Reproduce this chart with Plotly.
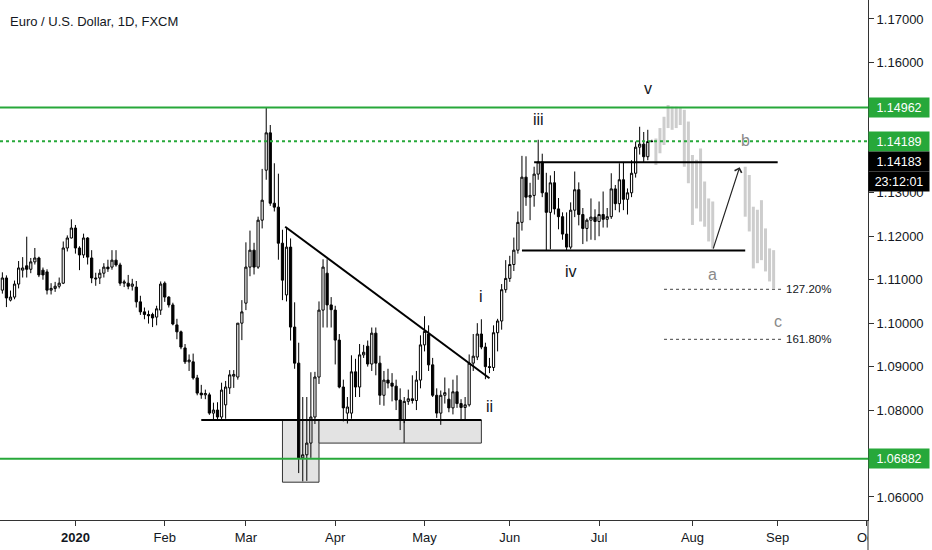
import pandas as pd
import plotly.graph_objects as go

# EUR/USD daily, FXCM -- (open, high, low, close), one list per month
HOLIDAYS = ["2019-12-25", "2020-01-01"]

dec_2019 = [(1.1080, 1.1092, 1.1066, 1.1078), (1.1076, 1.1117, 1.1068, 1.1104), (1.1104, 1.1110, 1.1037, 1.1058),
            (1.1053, 1.1075, 1.1050, 1.1060), (1.1060, 1.1098, 1.1055, 1.1090), (1.1090, 1.1143, 1.1080, 1.1127),
            (1.1122, 1.1152, 1.1105, 1.1127), (1.1132, 1.1199, 1.1105, 1.1124), (1.1124, 1.1150, 1.1115, 1.1141),
            (1.1141, 1.1173, 1.1135, 1.1150), (1.1150, 1.1153, 1.1106, 1.1111), (1.1122, 1.1128, 1.1100, 1.1111),
            (1.1118, 1.1124, 1.1066, 1.1076), (1.1076, 1.1092, 1.1066, 1.1080), (1.1080, 1.1095, 1.1072, 1.1085),
            (1.1085, 1.1105, 1.1080, 1.1092), (1.1092, 1.1188, 1.1090, 1.1173), (1.1173, 1.1202, 1.1165, 1.1196),
            (1.1196, 1.1239, 1.1195, 1.1219)]
jan_2020 = [(1.1219, 1.1226, 1.1160, 1.1173), (1.1173, 1.1177, 1.1122, 1.1157), (1.1157, 1.1206, 1.1150, 1.1196),
            (1.1196, 1.1198, 1.1135, 1.1152), (1.1150, 1.1168, 1.1092, 1.1104), (1.1104, 1.1116, 1.1086, 1.1102),
            (1.1104, 1.1124, 1.1090, 1.1115), (1.1115, 1.1138, 1.1105, 1.1129), (1.1129, 1.1146, 1.1118, 1.1125),
            (1.1129, 1.1168, 1.1123, 1.1145), (1.1145, 1.1168, 1.1130, 1.1134), (1.1134, 1.1139, 1.1086, 1.1092),
            (1.1092, 1.1100, 1.1083, 1.1095), (1.1092, 1.1111, 1.1078, 1.1085), (1.1085, 1.1102, 1.1075, 1.1090),
            (1.1083, 1.1097, 1.1036, 1.1049), (1.1049, 1.1063, 1.1019, 1.1026), (1.1026, 1.1036, 1.1009, 1.1020),
            (1.1020, 1.1029, 1.0999, 1.1017), (1.1020, 1.1024, 1.0991, 1.1012), (1.1014, 1.1040, 1.0995, 1.1033),
            (1.1030, 1.1096, 1.1019, 1.1090)]
feb_2020 = [(1.1092, 1.1096, 1.1049, 1.1060), (1.1060, 1.1062, 1.1036, 1.1042), (1.1042, 1.1047, 1.0995, 1.0998),
            (1.0996, 1.1010, 1.0963, 1.0980), (1.0980, 1.0983, 1.0940, 1.0945), (1.0943, 1.0952, 1.0906, 1.0911),
            (1.0911, 1.0928, 1.0890, 1.0915), (1.0911, 1.0930, 1.0870, 1.0874), (1.0874, 1.0881, 1.0834, 1.0839),
            (1.0839, 1.0858, 1.0826, 1.0835), (1.0835, 1.0847, 1.0825, 1.0838), (1.0835, 1.0840, 1.0789, 1.0793),
            (1.0793, 1.0817, 1.0778, 1.0800), (1.0800, 1.0818, 1.0777, 1.0784), (1.0784, 1.0863, 1.0777, 1.0846),
            (1.0812, 1.0867, 1.0780, 1.0853), (1.0851, 1.0892, 1.0837, 1.0881), (1.0878, 1.0892, 1.0851, 1.0882),
            (1.0876, 1.1000, 1.0870, 1.1000), (1.1000, 1.1053, 1.0961, 1.1026)]
mar_2020 = [(1.1046, 1.1186, 1.1030, 1.1129), (1.1129, 1.1213, 1.1108, 1.1168), (1.1168, 1.1185, 1.1112, 1.1129),
            (1.1129, 1.1245, 1.1125, 1.1237), (1.1237, 1.1355, 1.1218, 1.1283), (1.1352, 1.1496, 1.1330, 1.1438),
            (1.1438, 1.1456, 1.1270, 1.1276), (1.1276, 1.1368, 1.1257, 1.1267), (1.1267, 1.1344, 1.1146, 1.1184),
            (1.1184, 1.1215, 1.1053, 1.1099), (1.1065, 1.1221, 1.1050, 1.1175), (1.1175, 1.1195, 1.0960, 1.0991),
            (1.0991, 1.1048, 1.0895, 1.0908), (1.0908, 1.0955, 1.0655, 1.0690), (1.0690, 1.0830, 1.0636, 1.0697),
            (1.0697, 1.0830, 1.0637, 1.0724), (1.0724, 1.0887, 1.0690, 1.0784), (1.0784, 1.0888, 1.0768, 1.0876),
            (1.0876, 1.1050, 1.0860, 1.1030), (1.1030, 1.1147, 1.0990, 1.1129), (1.1115, 1.1147, 1.0990, 1.1042),
            (1.1042, 1.1060, 1.0990, 1.1031)]
apr_2020 = [(1.1030, 1.1040, 1.0905, 1.0961), (1.0961, 1.0975, 1.0850, 1.0853), (1.0853, 1.0870, 1.0774, 1.0805),
            (1.0793, 1.0830, 1.0769, 1.0807), (1.0793, 1.0926, 1.0780, 1.0888), (1.0888, 1.0918, 1.0830, 1.0853),
            (1.0853, 1.0952, 1.0830, 1.0927), (1.0927, 1.0950, 1.0920, 1.0933), (1.0947, 1.0960, 1.0900, 1.0906),
            (1.0906, 1.0990, 1.0890, 1.0977), (1.0977, 1.0990, 1.0880, 1.0908), (1.0908, 1.0925, 1.0812, 1.0834),
            (1.0834, 1.0890, 1.0810, 1.0869), (1.0869, 1.0895, 1.0850, 1.0862), (1.0862, 1.0885, 1.0820, 1.0855),
            (1.0855, 1.0870, 1.0800, 1.0823), (1.0823, 1.0850, 1.0754, 1.0778), (1.0778, 1.0830, 1.0770, 1.0820),
            (1.0820, 1.0847, 1.0812, 1.0826), (1.0826, 1.0880, 1.0815, 1.0822), (1.0822, 1.0890, 1.0800, 1.0869),
            (1.0869, 1.0972, 1.0850, 1.0950)]
may_2020 = [(1.0950, 1.1016, 1.0935, 1.0981), (1.0975, 1.0995, 1.0890, 1.0904), (1.0904, 1.0920, 1.0830, 1.0834),
            (1.0834, 1.0850, 1.0782, 1.0793), (1.0793, 1.0845, 1.0766, 1.0834), (1.0834, 1.0875, 1.0815, 1.0840),
            (1.0825, 1.0850, 1.0795, 1.0805), (1.0805, 1.0870, 1.0790, 1.0842), (1.0842, 1.0880, 1.0805, 1.0815),
            (1.0815, 1.0825, 1.0775, 1.0806), (1.0806, 1.0830, 1.0777, 1.0812), (1.0812, 1.0928, 1.0808, 1.0908),
            (1.0908, 1.0975, 1.0890, 1.0924), (1.0922, 1.1000, 1.0915, 1.0975), (1.0975, 1.1009, 1.0940, 1.0945),
            (1.0945, 1.0955, 1.0871, 1.0900), (1.0900, 1.0920, 1.0885, 1.0898), (1.0898, 1.0995, 1.0890, 1.0978),
            (1.0978, 1.1010, 1.0935, 1.1005), (1.1005, 1.1090, 1.0985, 1.1077), (1.1077, 1.1145, 1.1070, 1.1103)]
jun_2020 = [(1.1103, 1.1155, 1.1095, 1.1135), (1.1135, 1.1197, 1.1120, 1.1168), (1.1168, 1.1257, 1.1160, 1.1232),
            (1.1232, 1.1385, 1.1213, 1.1336), (1.1336, 1.1384, 1.1270, 1.1290), (1.1290, 1.1323, 1.1237, 1.1294),
            (1.1294, 1.1360, 1.1268, 1.1343), (1.1343, 1.1422, 1.1330, 1.1371), (1.1371, 1.1390, 1.1290, 1.1300),
            (1.1300, 1.1346, 1.1168, 1.1255), (1.1255, 1.1340, 1.1170, 1.1323), (1.1323, 1.1350, 1.1250, 1.1263),
            (1.1263, 1.1288, 1.1216, 1.1245), (1.1245, 1.1255, 1.1192, 1.1205), (1.1205, 1.1255, 1.1168, 1.1175),
            (1.1175, 1.1278, 1.1170, 1.1260), (1.1260, 1.1349, 1.1244, 1.1307), (1.1307, 1.1324, 1.1225, 1.1250),
            (1.1250, 1.1265, 1.1182, 1.1218), (1.1218, 1.1241, 1.1188, 1.1237), (1.1237, 1.1287, 1.1192, 1.1244),
            (1.1244, 1.1262, 1.1191, 1.1234)]
jul_2020 = [(1.1234, 1.1280, 1.1200, 1.1250), (1.1250, 1.1303, 1.1220, 1.1239), (1.1239, 1.1265, 1.1220, 1.1245),
            (1.1245, 1.1345, 1.1240, 1.1309), (1.1309, 1.1318, 1.1260, 1.1275), (1.1275, 1.1368, 1.1255, 1.1330),
            (1.1330, 1.1371, 1.1260, 1.1285), (1.1285, 1.1310, 1.1250, 1.1300), (1.1300, 1.1375, 1.1290, 1.1345),
            (1.1345, 1.1418, 1.1335, 1.1405), (1.1405, 1.1452, 1.1388, 1.1412), (1.1412, 1.1440, 1.1370, 1.1383),
            (1.1383, 1.1445, 1.1375, 1.1418), (1.1418, 1.1422, 1.1416, 1.14183)]

# projected "bars pattern" (low, high)
proj_a = [(1.1364, 1.1425), (1.1391, 1.1449), (1.1410, 1.1475), (1.1449, 1.1502), (1.1445, 1.1498),
          (1.1449, 1.1498), (1.1456, 1.1495), (1.1360, 1.1491), (1.1322, 1.1464), (1.1226, 1.1387),
          (1.1264, 1.1376), (1.1234, 1.1402), (1.1222, 1.1326), (1.1188, 1.1287), (1.1172, 1.1280)]
proj_c = [(1.1245, 1.1360), (1.1211, 1.1341), (1.1126, 1.1268), (1.1138, 1.1261), (1.1145, 1.1283),
          (1.1119, 1.1218), (1.1096, 1.1172), (1.1080, 1.1168)]

# levels
green_levels = [1.14962, 1.14189, 1.06882]
last_price = 1.14183
countdown = "23:12:01"
support = 1.07771
fib_levels = [(1.10779, "127.20%"), (1.09628, "161.80%")]
channel_top = 1.13702
channel_bot = 1.11672
waves = [("i", "2020-05-21", 1.1062, "#131722"), ("ii", "2020-05-25", 1.0809, "#131722"),
         ("iii", "2020-06-10", 1.1468, "#131722"), ("iv", "2020-06-22", 1.1120, "#131722"),
         ("v", "2020-07-17", 1.1541, "#131722"), ("a", "2020-08-10", 1.1111, "#8a8a8a"),
         ("b", "2020-08-20", 1.14215, "#8a8a8a"), ("c", "2020-09-01", 1.1003, "#8a8a8a")]
price_ticks = [1.06, 1.08, 1.09, 1.10, 1.11, 1.12, 1.13, 1.16, 1.17]
month_ticks = ["2020-01-02", "2020-02-03", "2020-03-02", "2020-04-01", "2020-05-01",
               "2020-06-01", "2020-07-01", "2020-08-03", "2020-09-01", "2020-10-01"]
month_text = ["<b>2020</b>", "Feb", "Mar", "Apr", "May", "Jun", "Jul", "Aug", "Sep", "Oct"]


def trading_days(start, end):
    d = pd.bdate_range(start, end)
    return [x for x in d if x.strftime("%Y-%m-%d") not in HOLIDAYS]


months = [("2019-12-04", "2019-12-31", dec_2019), ("2020-01-01", "2020-01-31", jan_2020),
          ("2020-02-01", "2020-02-29", feb_2020), ("2020-03-01", "2020-03-31", mar_2020),
          ("2020-04-01", "2020-04-30", apr_2020), ("2020-05-01", "2020-05-31", may_2020),
          ("2020-06-01", "2020-06-30", jun_2020), ("2020-07-01", "2020-07-20", jul_2020)]
dates, o, h, l, c = [], [], [], [], []
for start, end, rows in months:
    days = trading_days(start, end)
    assert len(days) == len(rows), (start, len(days), len(rows))
    dates += days
    o += [r[0] for r in rows]
    h += [r[1] for r in rows]
    l += [r[2] for r in rows]
    c += [r[3] for r in rows]

GREEN = "#27a83a"
INK = "#131722"
FONT = "Liberation Sans"

fig = go.Figure()

fig.add_trace(go.Candlestick(
    x=dates, open=o, high=h, low=l, close=c,
    increasing=dict(line=dict(color="black", width=1), fillcolor="white"),
    decreasing=dict(line=dict(color="black", width=1), fillcolor="black"),
    whiskerwidth=0, showlegend=False, hoverinfo="skip"))

for start, end, rows in [("2020-07-21", "2020-08-10", proj_a), ("2020-08-20", "2020-08-31", proj_c)]:
    days = pd.bdate_range(start, end)
    fig.add_trace(go.Ohlc(
        x=days, open=[r[1] for r in rows], high=[r[1] for r in rows],
        low=[r[0] for r in rows], close=[r[0] for r in rows],
        increasing=dict(line=dict(color="#cdcdcd", width=3)),
        decreasing=dict(line=dict(color="#cdcdcd", width=3)),
        tickwidth=0, showlegend=False, hoverinfo="skip"))

shapes = []
# grey boxes under the March low and the April/May base
shapes.append(dict(type="rect", xref="x", yref="y", x0="2020-03-13", x1="2020-03-26", y0=1.0634, y1=support,
                   fillcolor="#e3e3e3", line=dict(color="#333", width=1), layer="below"))
shapes.append(dict(type="rect", xref="x", yref="y", x0="2020-03-26", x1="2020-04-24", y0=1.0724, y1=support,
                   fillcolor="#e3e3e3", line=dict(color="#333", width=1), layer="below"))
shapes.append(dict(type="rect", xref="x", yref="y", x0="2020-04-24", x1="2020-05-21", y0=1.0724, y1=support,
                   fillcolor="#e3e3e3", line=dict(color="#333", width=1), layer="below"))
# support, trendline, range
shapes.append(dict(type="line", xref="x", yref="y", x0="2020-02-14", x1="2020-05-21", y0=support, y1=support,
                   line=dict(color="black", width=2)))
shapes.append(dict(type="line", xref="x", yref="y", x0="2020-03-13 16:00", x1="2020-05-25", y0=1.12220, y1=1.08731,
                   line=dict(color="black", width=2)))
shapes.append(dict(type="line", xref="x", yref="y", x0="2020-06-09", x1="2020-09-01", y0=channel_top, y1=channel_top,
                   line=dict(color="black", width=2)))
shapes.append(dict(type="line", xref="x", yref="y", x0="2020-06-04", x1="2020-08-20", y0=channel_bot, y1=channel_bot,
                   line=dict(color="black", width=2)))
# fib extensions
for lvl, _ in fib_levels:
    shapes.append(dict(type="line", xref="x", yref="y", x0="2020-07-23", x1="2020-09-02", y0=lvl, y1=lvl,
                       line=dict(color="#444", width=1, dash="dot")))
# green horizontal levels
for i, lvl in enumerate(green_levels):
    shapes.append(dict(type="line", xref="paper", yref="y", x0=0, x1=1, y0=lvl, y1=lvl,
                       line=dict(color=GREEN, width=2, dash="dot" if i == 1 else "solid")))
# hide the part of the x labels that sits under the price scale, and extend the scale line
shapes.append(dict(type="rect", xref="paper", yref="paper", x0=1.0, x1=1.08, y0=-0.06, y1=-0.002,
                   fillcolor="white", line=dict(width=0), layer="above"))
shapes.append(dict(type="line", xref="paper", yref="paper", x0=1, x1=1, y0=-0.06, y1=0,
                   line=dict(color="#333", width=1), layer="above"))

annotations = []
annotations.append(dict(xref="paper", yref="paper", x=0.009, y=0.958, xanchor="left", yanchor="middle",
                        text="Euro / U.S. Dollar, 1D, FXCM", showarrow=False,
                        font=dict(family=FONT, size=13, color=INK)))
for txt, d, y, col in waves:
    annotations.append(dict(x=d, y=y, text=txt, showarrow=False, xref="x", yref="y",
                            font=dict(family=FONT, size=16, color=col)))
for lvl, txt in fib_levels:
    annotations.append(dict(x="2020-09-02", y=lvl, text=txt, showarrow=False, xref="x", yref="y",
                            xanchor="left", xshift=2, font=dict(family=FONT, size=11.5, color=INK)))
# arrow from end of wave a to b
annotations.append(dict(x="2020-08-18 15:00", y=1.1359, ax="2020-08-10", ay=1.1168, xref="x", yref="y",
                        axref="x", ayref="y", text="", showarrow=True, arrowhead=4, arrowsize=1.2,
                        arrowwidth=1.2, arrowcolor="#222"))
# price scale labels
for lvl in green_levels:
    annotations.append(dict(xref="paper", yref="y", x=1, y=lvl, xanchor="left", text=f"{lvl:.5f}",
                            showarrow=False, bgcolor=GREEN, width=58, height=17,
                            font=dict(family=FONT, size=12.5, color="white")))
annotations.append(dict(xref="paper", yref="y", x=1, y=last_price, yshift=-20, xanchor="left",
                        text=f"{last_price:.5f}", showarrow=False, bgcolor="black", width=58, height=17,
                        font=dict(family=FONT, size=12.5, color="white")))
annotations.append(dict(xref="paper", yref="y", x=1, y=last_price, yshift=-40, xanchor="left",
                        text=countdown, showarrow=False, bgcolor="black", width=58, height=17,
                        font=dict(family=FONT, size=12.5, color="white")))

fig.update_layout(
    width=932, height=550,
    margin=dict(l=0, r=64, t=0, b=30),
    paper_bgcolor="white", plot_bgcolor="white",
    shapes=shapes, annotations=annotations,
    showlegend=False,
    boxgap=0.22,
    xaxis=dict(
        range=["2019-12-04 10:00", "2020-10-01 06:00"],
        rangebreaks=[dict(bounds=["sat", "mon"]), dict(values=HOLIDAYS)],
        rangeslider=dict(visible=False),
        tickvals=month_ticks, ticktext=month_text,
        showgrid=False, zeroline=False,
        showline=True, linecolor="#333", linewidth=1,
        ticks="outside", ticklen=5, tickcolor="#333",
        tickfont=dict(family=FONT, size=13, color=INK),
    ),
    yaxis=dict(
        side="right", range=[1.05470, 1.17437],
        tickvals=price_ticks, tickformat=".5f",
        showgrid=False, zeroline=False,
        showline=True, linecolor="#333", linewidth=1,
        ticks="outside", ticklen=5, tickcolor="#333",
        tickfont=dict(family=FONT, size=13, color=INK),
    ),
)

# the page body has a default 8px margin; drop it so the figure fills the window
fig.write_html("out.html", config={"displayModeBar": False},
               post_script="document.body.style.margin='0';")
